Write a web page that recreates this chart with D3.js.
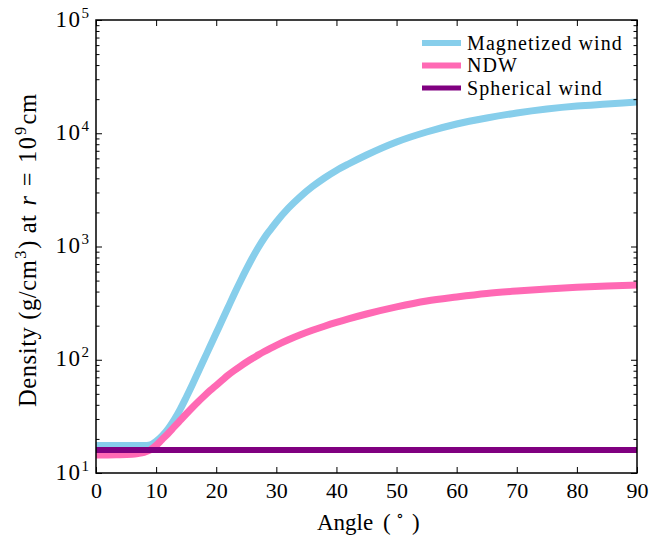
<!DOCTYPE html>
<html>
<head>
<meta charset="utf-8">
<script src="https://cdn.jsdelivr.net/npm/d3@7"></script>
<style>
  body { margin: 0; background: #fff; }
  svg text { font-family: "Liberation Serif", "Times New Roman", "DejaVu Serif", serif; fill: #000; }
  .domain { display: none; }
  .tick line { stroke: #000; stroke-width: 1; }
</style>
</head>
<body>
<svg id="chart" width="654" height="536"></svg>
<script>
// angle (deg) and density (g/cm^3)
const angles = [0, 2, 4, 6, 7, 8, 9, 10, 11, 12, 13, 14, 15, 16, 17, 18, 19, 20, 21, 22, 23, 24, 25,
  26, 27, 28, 29, 30, 32, 34, 36, 38, 40, 42, 45, 50, 55, 60, 65, 70, 75, 80, 85, 90]
const magnetized = [17.5, 17.5, 17.5, 17.5, 17.5, 17.5, 17.7, 19.0, 21.2, 24.5, 29.4, 36.4, 46.4, 59.8, 78, 101.5, 132, 172, 224, 292, 381, 491, 627,
  792, 980, 1190, 1404, 1646, 2179, 2758, 3380, 4026, 4690, 5352, 6425, 8372, 10255, 12068, 13636, 15097, 16373, 17400, 18124, 18877]
const ndw = [14.42, 14.45, 14.48, 14.63, 14.87, 15.23, 15.96, 17.49, 19.76, 22.33, 25.48, 29.08, 33.19, 37.73, 42.63, 47.86, 53.53, 59.48, 66.12, 73.33, 80.37, 87.54, 94.95,
  102.6, 110.4, 118.3, 126.2, 134.2, 150.1, 166.1, 182, 197.8, 213.7, 229.5, 253.5, 292.9, 330.3, 358.3, 384.6, 404.6, 421.4, 436.2, 448, 457.1]
const sphericalAngles = [0, 90]
const spherical = [16, 16]

const seriesNames = ['Magnetized wind', 'NDW', 'Spherical wind']
const seriesColors = ['#87ceeb', '#ff69b4', '#800080']
const seriesWidths = [7, 7, 6]

const xTicks = [0, 10, 20, 30, 40, 50, 60, 70, 80, 90]
const yTicks = [1e1, 1e2, 1e3, 1e4, 1e5]

const margin = { left: 96, right: 17, top: 20, bottom: 63 }
const W = 654
const H = 536

const svg = d3.select('#chart')

const x = d3.scaleLinear().domain([0, 90]).range([margin.left, W - margin.right])
const y = d3.scaleLog().domain([1e1, 1e5]).range([H - margin.bottom, margin.top])

const yMinor = y.ticks().filter(v => !yTicks.includes(v))

svg.append('clipPath').attr('id', 'plotclip')
  .append('rect')
  .attr('x', x(0)).attr('y', y(1e5))
  .attr('width', x(90) - x(0)).attr('height', y(1e1) - y(1e5))

// curves, drawn in legend order so the spherical wind sits on top
const series = [
  { xs: angles, ys: magnetized },
  { xs: angles, ys: ndw },
  { xs: sphericalAngles, ys: spherical }
]
const line = d3.line().curve(d3.curveMonotoneX)
const curves = svg.append('g').attr('clip-path', 'url(#plotclip)')
series.forEach((s, i) => {
  const pts = s.xs.map((a, j) => [x(a), y(s.ys[j])])
  curves.append('path')
    .attr('d', line(pts))
    .attr('fill', 'none')
    .attr('stroke', seriesColors[i])
    .attr('stroke-width', seriesWidths[i])
})

// ticks point inward, on all four sides
const bottom = svg.append('g').attr('transform', `translate(0,${y(1e1)})`)
  .call(d3.axisBottom(x).tickValues(xTicks).tickSize(-6).tickPadding(9))
bottom.selectAll('text').attr('font-size', 22)
svg.append('g').attr('transform', `translate(0,${y(1e5)})`)
  .call(d3.axisTop(x).tickValues(xTicks).tickSize(-6).tickFormat(''))

svg.append('g').attr('transform', `translate(${x(0)},0)`)
  .call(d3.axisLeft(y).tickValues(yTicks).tickSize(-6).tickFormat(''))
svg.append('g').attr('transform', `translate(${x(0)},0)`)
  .call(d3.axisLeft(y).tickValues(yMinor).tickSize(-3.5).tickFormat(''))
svg.append('g').attr('transform', `translate(${x(90)},0)`)
  .call(d3.axisRight(y).tickValues(yTicks).tickSize(-6).tickFormat(''))
svg.append('g').attr('transform', `translate(${x(90)},0)`)
  .call(d3.axisRight(y).tickValues(yMinor).tickSize(-3.5).tickFormat(''))

// y tick labels as 10^n
yTicks.forEach(v => {
  const t = svg.append('text')
    .attr('x', x(0) - 7)
    .attr('y', y(v) + 6.5)
    .attr('text-anchor', 'end')
    .attr('font-size', 23)
  t.append('tspan').attr('letter-spacing', 1.5).text('10')
  t.append('tspan').attr('font-size', 15).attr('dy', -9).text(Math.round(Math.log10(v)))
})

// frame
svg.append('rect')
  .attr('x', x(0)).attr('y', y(1e5))
  .attr('width', x(90) - x(0)).attr('height', y(1e1) - y(1e5))
  .attr('fill', 'none').attr('stroke', '#000').attr('stroke-width', 1.5)

// legend
const legend = svg.append('g').attr('transform', 'translate(422,43)')
seriesNames.forEach((name, i) => {
  const row = legend.append('g').attr('transform', `translate(0,${i * 22.5})`)
  row.append('line')
    .attr('x1', 0).attr('x2', 39).attr('y1', 0).attr('y2', 0)
    .attr('stroke', seriesColors[i]).attr('stroke-width', seriesWidths[i] - 1)
  row.append('text')
    .attr('x', 45).attr('y', 6.5)
    .attr('font-size', 20)
    .attr('letter-spacing', 1.1)
    .text(name)
})

// x axis label
const xl = svg.append('g').attr('transform', 'translate(317,530)')
  .attr('font-size', 23)
xl.append('text').attr('x', 0).text('Angle')
xl.append('text').attr('x', 66).text('(')
xl.append('text').attr('x', 79).attr('y', -9).attr('font-size', 16).text('\u2218')
xl.append('text').attr('x', 95).text(')')

// y axis label
const yl = svg.append('text')
  .attr('transform', 'translate(36,407) rotate(-90)')
  .attr('font-size', 24.5)
  .attr('letter-spacing', 0.6)
yl.append('tspan').text('Density (g/cm')
yl.append('tspan').attr('font-size', 16.5).attr('dx', 1).attr('dy', -10).text('3')
yl.append('tspan').attr('dx', 1).attr('dy', 10).text(')\u00a0at')
yl.append('tspan').attr('dx', 9).attr('font-style', 'italic').text('r')
yl.append('tspan').attr('dx', 9).text('=')
yl.append('tspan').attr('dx', 9).attr('letter-spacing', 1.5).text('10')
yl.append('tspan').attr('font-size', 16.5).attr('dx', 0.5).attr('dy', -10).text('9')
yl.append('tspan').attr('dx', 1.5).attr('dy', 10).text('cm')
</script>
</body>
</html>
